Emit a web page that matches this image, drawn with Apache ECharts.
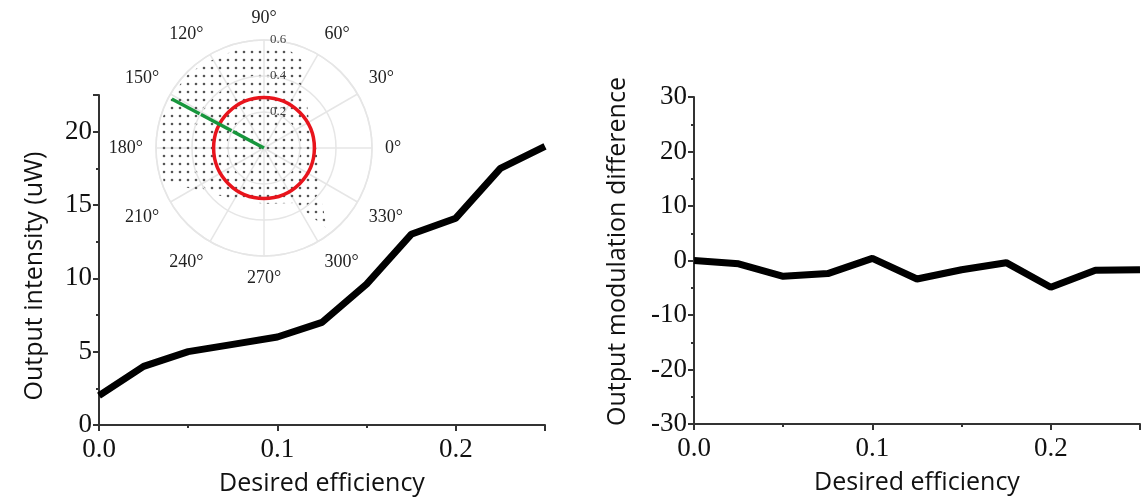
<!DOCTYPE html>
<html>
<head>
<meta charset="utf-8">
<script src="https://cdn.jsdelivr.net/npm/echarts@6.0.0/dist/echarts.min.js"></script>
<style>
  html, body { margin: 0; padding: 0; background: #fff; }
  #main { width: 1146px; height: 502px; }
</style>
</head>
<body>
<div id="main"></div>
<script>
// desired efficiency (x of both panels)
var efficiency = [0, 0.025, 0.05, 0.075, 0.1, 0.125, 0.15, 0.175, 0.2, 0.225, 0.25];
// left panel: output intensity (uW)
var intensity = [2, 4, 5, 5.5, 6, 7, 9.6, 13, 14.1, 17.5, 19];
// right panel: output modulation difference
var modDiff = [0, -0.6, -2.9, -2.4, 0.4, -3.4, -1.7, -0.4, -4.9, -1.8, -1.7];

// inset: outline of the dotted (reachable) region, angle in degrees (90..450) and radius
var regionAngle  = [90, 105, 123, 135, 150, 165, 180, 199, 216, 240, 270, 299, 308, 318, 332, 341, 360, 378, 403, 420, 426, 435, 450];
var regionRadius = [0.56, 0.57, 0.57, 0.59, 0.59, 0.59, 0.58, 0.59, 0.41, 0.33, 0.31, 0.35, 0.57, 0.43, 0.34, 0.32, 0.29, 0.27, 0.33, 0.43, 0.53, 0.56, 0.56];
// inset: red circle radius and green vector
var circleRadius = [0.28];
var vectorAngle = [152, 152];
var vectorRadius = [0, 0.58];

var chart = echarts.init(document.getElementById('main'));

// small dot pattern for the region fill
var dot = document.createElement('canvas');
dot.width = 8;
dot.height = 8;
var dctx = dot.getContext('2d');
dctx.fillStyle = '#555';
dctx.beginPath();
dctx.arc(4, 4, 1.3, 0, Math.PI * 2);
dctx.fill();

var serif = '"Liberation Serif", "Times New Roman", serif';
var sans = '"Open Sans", sans-serif';

function pairs(xs, ys) {
  return xs.map(function (x, i) { return [x, ys[i]]; });
}

var axisLine = { show: true, onZero: false, lineStyle: { color: '#333', width: 2 } };
var tick = { show: true, inside: false, length: 6, lineStyle: { color: '#333', width: 2 } };
var minor = { show: true, splitNumber: 2, length: 3, lineStyle: { color: '#333', width: 2 } };

function xAxis(idx) {
  return {
    type: 'value', gridIndex: idx, min: 0, max: 0.25, interval: 0.1,
    name: 'Desired efficiency', nameLocation: 'middle', nameGap: 46,
    nameTextStyle: { fontFamily: sans, fontSize: 25, color: '#111' },
    axisLine: axisLine, axisTick: tick, minorTick: minor,
    splitLine: { show: false },
    axisLabel: {
      showMaxLabel: false, margin: 11, color: '#111', fontFamily: serif, fontSize: 27,
      formatter: function (v) { return v.toFixed(1); }
    }
  };
}

var option = {
  backgroundColor: '#fff',
  animation: false,
  grid: [
    { left: 99, top: 95, width: 446, height: 330 },
    { left: 694, top: 97, width: 446, height: 327 }
  ],
  xAxis: [xAxis(0), xAxis(1)],
  yAxis: [
    {
      type: 'value', gridIndex: 0, min: 0, max: 22.5, interval: 5,
      name: 'Output intensity (uW)', nameLocation: 'middle', nameGap: 52,
      nameTextStyle: { fontFamily: sans, fontSize: 25, color: '#111', padding: [0, 32, 0, 0] },
      axisLine: axisLine, axisTick: tick, minorTick: minor,
      splitLine: { show: false },
      axisLabel: { showMaxLabel: false, margin: 7, color: '#111', fontFamily: serif, fontSize: 27 }
    },
    {
      type: 'value', gridIndex: 1, min: -30, max: 30, interval: 10,
      name: 'Output modulation difference', nameLocation: 'middle', nameGap: 64,
      nameTextStyle: { fontFamily: sans, fontSize: 25, color: '#111', padding: [0, 0, 0, 18] },
      axisLine: axisLine, axisTick: tick, minorTick: minor,
      splitLine: { show: false },
      axisLabel: { margin: 7, color: '#111', fontFamily: serif, fontSize: 27 }
    }
  ],
  polar: { center: [264, 148], radius: 108 },
  angleAxis: {
    type: 'value', min: 90, max: 450, interval: 30, startAngle: 90, clockwise: false,
    axisLine: { show: true, lineStyle: { color: '#e6e6e6', width: 1.5 } },
    axisTick: { show: false },
    splitLine: { show: true, lineStyle: { color: '#e6e6e6', width: 1.5 } },
    axisLabel: {
      margin: 13, color: '#222', fontFamily: serif, fontSize: 18,
      formatter: function (v) { return (v % 360) + '°'; }
    }
  },
  radiusAxis: {
    type: 'value', min: 0, max: 0.6, interval: 0.2,
    axisLine: { show: false },
    axisTick: { show: false },
    splitLine: { show: true, lineStyle: { color: '#e6e6e6', width: 1.5 } },
    axisLabel: {
      showMinLabel: false, color: '#444', fontFamily: serif, fontSize: 13,
      align: 'left', margin: -6,
      formatter: function (v) { return v.toFixed(1); }
    },
    z: 20
  },
  series: [
    {
      type: 'line', xAxisIndex: 0, yAxisIndex: 0,
      data: pairs(efficiency, intensity),
      showSymbol: false, lineStyle: { color: '#000', width: 7 }, z: 3
    },
    {
      type: 'line', xAxisIndex: 1, yAxisIndex: 1,
      data: pairs(efficiency, modDiff),
      showSymbol: false, lineStyle: { color: '#000', width: 7 }, z: 3
    },
    {
      // dotted region of the inset
      type: 'custom', coordinateSystem: 'polar', polarIndex: 0,
      data: [[0, 90]],
      silent: true, z: 5,
      renderItem: function (params, api) {
        var pts = regionAngle.map(function (a, i) { return api.coord([regionRadius[i], a]); });
        return {
          type: 'polygon',
          shape: { points: pts },
          style: { fill: { image: dot, repeat: 'repeat' }, stroke: null }
        };
      }
    },
    {
      // red circle
      type: 'custom', coordinateSystem: 'polar', polarIndex: 0,
      data: [[0, 90]],
      silent: true, z: 6,
      renderItem: function (params, api) {
        var c = api.coord([0, 0]);
        var p = api.coord([circleRadius[0], 0]);
        var r = Math.sqrt((p[0] - c[0]) * (p[0] - c[0]) + (p[1] - c[1]) * (p[1] - c[1]));
        return {
          type: 'circle',
          shape: { cx: c[0], cy: c[1], r: r },
          style: { fill: 'none', stroke: '#e8141c', lineWidth: 3.5 }
        };
      }
    },
    {
      // green vector
      type: 'line', coordinateSystem: 'polar', polarIndex: 0,
      data: pairs(vectorRadius, vectorAngle),
      showSymbol: false, lineStyle: { color: '#17963c', width: 3.5 }, z: 7
    }
  ]
};

chart.setOption(option);
</script>
</body>
</html>
